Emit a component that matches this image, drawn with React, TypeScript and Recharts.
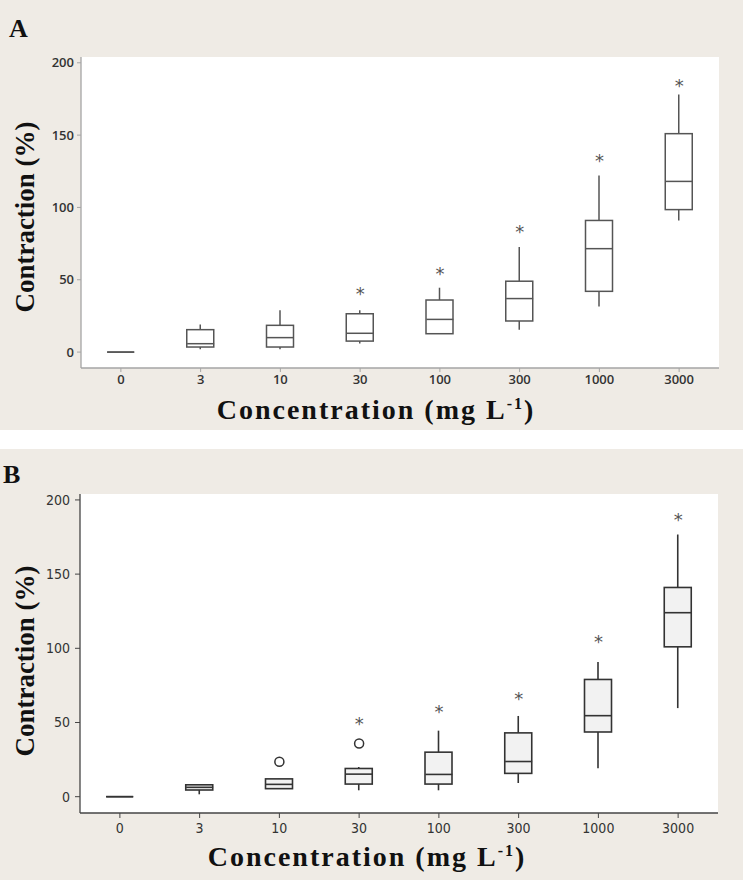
import React from "react";
import { ComposedChart, Bar, Scatter, XAxis, YAxis, CartesianGrid } from "recharts";

const concentrations = ["0", "3", "10", "30", "100", "300", "1000", "3000"];
const yTicks = [0, 50, 100, 150, 200];
const yDomain = [-11, 204];

// panel A
const aMin = [0, 2, 2, 6, 12.7, 15.5, 31.6, 91];
const aQ1 = [0, 3.5, 3.5, 7.6, 12.7, 21.5, 42, 98.5];
const aMed = [0, 5.8, 10, 13, 22.6, 37, 71.5, 118];
const aQ3 = [0, 15.5, 18.5, 26.5, 36, 49, 91, 151];
const aMax = [0, 19, 29, 29, 44.5, 72.7, 122, 178];
const aStar = [null, null, null, 42.7, 56.5, 86, 135, 187];
const aOutlier = [null, null, null, null, null, null, null, null];

// panel B
const bMin = [0, 1.6, 5.4, 4.3, 4.3, 9.2, 19.2, 59.7];
const bQ1 = [0, 4.5, 5.4, 8.5, 8.5, 15.7, 43.6, 101];
const bMed = [0, 6.3, 8.3, 15.2, 15, 23.7, 54.6, 124];
const bQ3 = [0, 8, 12, 19, 30, 43, 79, 141];
const bMax = [0, 8, 12, 20, 44.5, 54.4, 90.8, 176.7];
const bStar = [null, null, null, 52, 59.7, 68.7, 106.7, 189.5];
const bOutlier = [null, null, 23.5, 35.8, null, null, null, null];

const BEIGE = "#efebe5";
const BOX_W = 27;

type Row = {
  conc: string;
  whisker: number[];
  box: number[];
  median: number;
  star: number | null;
  outlier: number | null;
};

function buildRows(
  mins: number[],
  q1s: number[],
  meds: number[],
  q3s: number[],
  maxs: number[],
  stars: (number | null)[],
  outliers: (number | null)[]
): Row[] {
  return concentrations.map((c, i) => ({
    conc: c,
    whisker: [mins[i], maxs[i]],
    box: [q1s[i], q3s[i]],
    median: meds[i],
    star: stars[i],
    outlier: outliers[i],
  }));
}

const rowsA = buildRows(aMin, aQ1, aMed, aQ3, aMax, aStar, aOutlier);
const rowsB = buildRows(bMin, bQ1, bMed, bQ3, bMax, bStar, bOutlier);

type PanelProps = {
  letter: string;
  rows: Row[];
  top: number;
  height: number;
  margin: { top: number; right: number };
  yAxisWidth: number;
  xAxisHeight: number;
  frame: string;
  stroke: string;
  strokeWidth: number;
  boxFill: string;
  tickFont: React.CSSProperties;
  tickSize: number;
  tickMargin: number;
  letterPos: { left: number; top: number };
  yTitleCenter: { x: number; y: number };
  xTitle: { x: number; top: number };
};

function Panel(p: PanelProps) {
  const whiskerShape = (props: any) => {
    const { x, y, width, height } = props;
    const h = Math.abs(height);
    if (!h) return <g />;
    const cx = x + width / 2;
    const t = Math.min(y, y + height);
    return <line x1={cx} x2={cx} y1={t} y2={t + h} stroke={p.stroke} strokeWidth={p.strokeWidth} />;
  };

  const boxShape = (props: any) => {
    const { x, y, width, height } = props;
    const h = Math.abs(height);
    const t = Math.min(y, y + height);
    if (h < 0.5) {
      return <line x1={x} x2={x + width} y1={t} y2={t} stroke={p.stroke} strokeWidth={p.strokeWidth} />;
    }
    return (
      <rect x={x} y={t} width={width} height={h} fill={p.boxFill} stroke={p.stroke} strokeWidth={p.strokeWidth} />
    );
  };

  const medianShape = (props: any) => {
    const { cx, cy } = props;
    if (cx == null || cy == null || isNaN(cy)) return <g />;
    return (
      <line x1={cx - BOX_W / 2} x2={cx + BOX_W / 2} y1={cy} y2={cy} stroke={p.stroke} strokeWidth={p.strokeWidth} />
    );
  };

  const starShape = (props: any) => {
    const { cx, cy, payload } = props;
    if (payload.star == null || isNaN(cy)) return <g />;
    return (
      <text x={cx} y={cy + 10} textAnchor="middle" fontSize={18} fontFamily="DejaVu Sans" fill="#555">
        *
      </text>
    );
  };

  const outlierShape = (props: any) => {
    const { cx, cy, payload } = props;
    if (payload.outlier == null || isNaN(cy)) return <g />;
    return <circle cx={cx} cy={cy} r={4.5} fill="#fff" stroke="#333" strokeWidth={1.5} />;
  };

  return (
    <div style={{ position: "absolute", left: 0, top: p.top, width: 743, height: p.height, background: BEIGE }}>
      <div
        style={{
          position: "absolute",
          left: p.letterPos.left,
          top: p.letterPos.top,
          fontFamily: "Liberation Serif",
          fontWeight: 700,
          fontSize: 26,
          lineHeight: "26px",
          color: "#111",
        }}
      >
        {p.letter}
      </div>

      <div style={{ position: "absolute", left: 0, top: 0 }}>
        <ComposedChart
          width={743}
          height={p.height}
          data={p.rows}
          margin={{ top: p.margin.top, right: p.margin.right, bottom: 0, left: 0 }}
        >
          <CartesianGrid horizontal={false} vertical={false} fill="#fff" />
          <XAxis
            xAxisId="main"
            dataKey="conc"
            type="category"
            height={p.xAxisHeight}
            tick={{ ...(p.tickFont as any) }}
            tickSize={p.tickSize}
            tickMargin={p.tickMargin}
            tickLine={{ stroke: p.frame }}
            axisLine={{ stroke: p.frame, strokeWidth: 1.3 }}
          />
          <XAxis xAxisId="box" dataKey="conc" type="category" orientation="top" height={0} hide />
          <XAxis
            xAxisId="top"
            dataKey="conc"
            type="category"
            orientation="top"
            height={0}
            tick={false}
            tickLine={false}
            axisLine={{ stroke: p.frame, strokeWidth: 1.3 }}
          />
          <YAxis
            yAxisId="left"
            type="number"
            domain={yDomain}
            ticks={yTicks}
            allowDataOverflow
            width={p.yAxisWidth}
            tick={{ ...(p.tickFont as any) }}
            tickSize={p.tickSize}
            tickMargin={p.tickMargin}
            tickLine={{ stroke: p.frame }}
            axisLine={{ stroke: p.frame, strokeWidth: 1.3 }}
          />
          <YAxis
            yAxisId="right"
            type="number"
            orientation="right"
            domain={yDomain}
            ticks={yTicks}
            allowDataOverflow
            width={0}
            tick={false}
            tickLine={false}
            axisLine={{ stroke: p.frame, strokeWidth: 1.3 }}
          />
          <Bar
            xAxisId="main"
            yAxisId="left"
            dataKey="whisker"
            barSize={BOX_W}
            shape={whiskerShape}
            isAnimationActive={false}
          />
          <Bar
            xAxisId="box"
            yAxisId="left"
            dataKey="box"
            barSize={BOX_W}
            shape={boxShape}
            isAnimationActive={false}
          />
          <Scatter xAxisId="main" yAxisId="left" dataKey="median" shape={medianShape} isAnimationActive={false} />
          <Scatter xAxisId="main" yAxisId="left" dataKey="star" shape={starShape} isAnimationActive={false} />
          <Scatter xAxisId="main" yAxisId="left" dataKey="outlier" shape={outlierShape} isAnimationActive={false} />
        </ComposedChart>
      </div>

      <div
        style={{
          position: "absolute",
          left: p.yTitleCenter.x - 150,
          top: p.yTitleCenter.y - 15,
          width: 300,
          height: 30,
          lineHeight: "30px",
          textAlign: "center",
          transform: "rotate(-90deg)",
          fontFamily: "Liberation Serif",
          fontWeight: 700,
          fontSize: 27,
          color: "#111",
          whiteSpace: "nowrap",
        }}
      >
        Contraction (%)
      </div>

      <div
        style={{
          position: "absolute",
          left: p.xTitle.x - 200,
          top: p.xTitle.top,
          width: 400,
          lineHeight: "28px",
          textAlign: "center",
          fontFamily: "Liberation Serif",
          fontWeight: 700,
          fontSize: 28,
          letterSpacing: 2,
          color: "#111",
          whiteSpace: "nowrap",
        }}
      >
        Concentration (mg L<sup style={{ fontSize: 16, lineHeight: 0 }}>-1</sup>)
      </div>
    </div>
  );
}

export default function App() {
  return (
    <div style={{ position: "absolute", left: 0, top: 0, width: 743, height: 880, background: "#fff" }}>
      <Panel
        letter="A"
        rows={rowsA}
        top={0}
        height={430}
        margin={{ top: 57, right: 24 }}
        yAxisWidth={81}
        xAxisHeight={62}
        frame="#a5a5a5"
        stroke="#555"
        strokeWidth={1.5}
        boxFill="#fff"
        tickFont={{ fontFamily: "Open Sans", fontWeight: 600, fontSize: 13, fill: "#333" }}
        tickSize={4}
        tickMargin={3}
        letterPos={{ left: 9, top: 16 }}
        yTitleCenter={{ x: 25, y: 217 }}
        xTitle={{ x: 376, top: 396 }}
      />
      <Panel
        letter="B"
        rows={rowsB}
        top={449}
        height={431}
        margin={{ top: 45, right: 25 }}
        yAxisWidth={80}
        xAxisHeight={67}
        frame="#444"
        stroke="#333"
        strokeWidth={1.6}
        boxFill="#f2f2f2"
        tickFont={{ fontFamily: "DejaVu Sans Condensed, Open Sans", fontSize: 14, fill: "#333" }}
        tickSize={5}
        tickMargin={5}
        letterPos={{ left: 3, top: 13 }}
        yTitleCenter={{ x: 25, y: 212 }}
        xTitle={{ x: 367, top: 394 }}
      />
    </div>
  );
}
